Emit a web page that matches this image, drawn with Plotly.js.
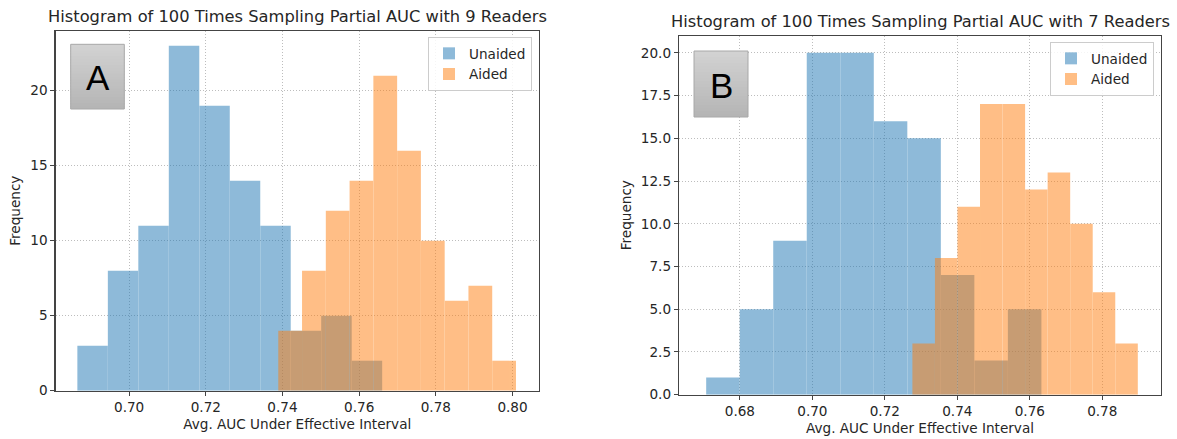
<!DOCTYPE html>
<html><head><meta charset="utf-8">
<script src="https://cdn.plot.ly/plotly-3.0.1.min.js"></script>
<style>html,body{margin:0;padding:0;background:#fff}</style>
</head><body><div id="chart" style="width:1177px;height:439px"></div>
<script>
// ---------- Data ----------
// Panel A: 9 readers
const unaidedA_counts = [3, 8, 11, 23, 19, 14, 11, 4, 5, 2];
const unaidedA_edges  = [0.6865, 0.7660];   // first / last bin edge
const aidedA_counts   = [4, 8, 12, 14, 21, 16, 10, 6, 7, 2];
const aidedA_edges    = [0.7389, 0.8009];
// Panel B: 7 readers
const unaidedB_counts = [1, 5, 9, 20, 20, 16, 15, 7, 2, 5];
const unaidedB_edges  = [0.6707, 0.7632];
const aidedB_counts   = [3, 8, 11, 17, 17, 12, 13, 10, 6, 3];
const aidedB_edges    = [0.7276, 0.7898];

const seriesNames = ['Unaided', 'Aided'];
const panelTitles = ['Histogram of 100 Times Sampling Partial AUC with 9 Readers',
                     'Histogram of 100 Times Sampling Partial AUC with 7 Readers'];
const panelLetters = ['A', 'B'];
const xLabel = 'Avg. AUC Under Effective Interval';
const yLabel = 'Frequency';

// ---------- Helpers ----------
const W = 1177, H = 439;
const px = x => x / W;
const py = y => 1 - y / H;
function bins(counts, edges) {
  const n = counts.length, w = (edges[1] - edges[0]) / n;
  return { x: counts.map((_, i) => edges[0] + (i + 0.5) * w), y: counts, w: w };
}
const C0 = '#1f77b4', C1 = '#ff7f0e';
function barTrace(counts, edges, name, color, xa, ya, leg) {
  const b = bins(counts, edges);
  return { type: 'bar', x: b.x, y: b.y, width: b.w, name: name,
    xaxis: xa, yaxis: ya, legend: leg, opacity: 0.5,
    marker: { color: color, line: { width: 0 } }, hoverinfo: 'x+y+name' };
}

const data = [
  barTrace(unaidedA_counts, unaidedA_edges, seriesNames[0], C0, 'x', 'y', 'legend'),
  barTrace(aidedA_counts, aidedA_edges, seriesNames[1], C1, 'x', 'y', 'legend'),
  barTrace(unaidedB_counts, unaidedB_edges, seriesNames[0], C0, 'x2', 'y2', 'legend2'),
  barTrace(aidedB_counts, aidedB_edges, seriesNames[1], C1, 'x2', 'y2', 'legend2')
];

// plot areas in pixels
const A = { l: 55.5, r: 539, t: 30.7, b: 390.7 };
const B = { l: 679, r: 1161, t: 35.7, b: 394.7 };

const font = 'DejaVu Sans, sans-serif';
const txt = '#262626';
const fs = 13.6;
function xAxis(dom, range, anchor) {
  return { domain: dom, range: range, anchor: anchor, tick0: 0.70, dtick: 0.02, tickformat: '.2f',
    ticks: 'outside', ticklen: 4, tickwidth: 1, tickcolor: '#444',
    showline: true, mirror: true, linecolor: '#444', linewidth: 1.2,
    showgrid: true, gridcolor: '#bdbdbd', griddash: '1px,2px', gridwidth: 1, zeroline: false,
    tickfont: { family: font, size: fs, color: txt },
    title: { text: xLabel, font: { family: font, size: fs, color: txt }, standoff: 5 } };
}
function yAxis(dom, range, anchor, dtick, fmt) {
  return { domain: dom, range: range, anchor: anchor, tick0: 0, dtick: dtick, tickformat: fmt,
    ticks: 'outside', ticklen: 4, tickwidth: 1, tickcolor: '#444',
    showline: true, mirror: true, linecolor: '#444', linewidth: 1.2,
    showgrid: true, gridcolor: '#bdbdbd', griddash: '1px,2px', gridwidth: 1, zeroline: false,
    tickfont: { family: font, size: fs, color: txt },
    title: { text: yLabel, font: { family: font, size: fs, color: txt }, standoff: 6 } };
}

// gradient label boxes
const shapes = [];
const annotations = [];
function letterBox(x0, y0, x1, y1, letter) {
  const n = 22, top = [210, 210, 210], bot = [181, 181, 181];
  for (let i = 0; i < n; i++) {
    const t = i / (n - 1);
    const c = top.map((v, k) => Math.round(v + (bot[k] - v) * t));
    const ya = y0 + (y1 - y0) * i / n;
    const yb = Math.min(y1, y0 + (y1 - y0) * (i + 1) / n + 1.5);
    shapes.push({ type: 'rect', xref: 'paper', yref: 'paper', x0: px(x0), x1: px(x1), y0: py(ya), y1: py(yb),
      fillcolor: `rgb(${c[0]},${c[1]},${c[2]})`, line: { width: 0 }, layer: 'above' });
  }
  shapes.push({ type: 'rect', xref: 'paper', yref: 'paper', x0: px(x0), x1: px(x1), y0: py(y0), y1: py(y1),
    fillcolor: 'rgba(0,0,0,0)', line: { width: 1, color: '#a8a8a8' }, layer: 'above' });
  annotations.push({ xref: 'paper', yref: 'paper', x: px((x0 + x1) / 2), y: py((y0 + y1) / 2 + 1),
    xanchor: 'center', yanchor: 'middle', showarrow: false, text: letter,
    font: { family: 'Liberation Sans, Arial, sans-serif', size: 35, color: '#000' } });
}
letterBox(70.7, 44.3, 124.3, 109, panelLetters[0]);
letterBox(694, 51, 748, 117, panelLetters[1]);

// subplot titles
const tfs = 16.3;
annotations.push({ xref: 'paper', yref: 'paper', x: px((A.l + A.r) / 2), y: py(A.t - 14.5),
  xanchor: 'center', yanchor: 'middle', showarrow: false, text: panelTitles[0],
  font: { family: font, size: tfs, color: txt } });
annotations.push({ xref: 'paper', yref: 'paper', x: px((B.l + B.r) / 2), y: py(B.t - 14.5),
  xanchor: 'center', yanchor: 'middle', showarrow: false, text: panelTitles[1],
  font: { family: font, size: tfs, color: txt } });

const legendStyle = (x, y) => ({ x: px(x), y: py(y), xanchor: 'right', yanchor: 'top',
  bgcolor: 'rgba(255,255,255,0.85)', bordercolor: '#cccccc', borderwidth: 1,
  font: { family: font, size: fs, color: txt }, tracegroupgap: 0 });

const layout = {
  width: W, height: H, margin: { l: 0, r: 0, t: 0, b: 0 },
  paper_bgcolor: '#fff', plot_bgcolor: '#fff',
  barmode: 'overlay', showlegend: true,
  xaxis: xAxis([px(A.l), px(A.r)], [0.6808, 0.8069], 'y'),
  yaxis: yAxis([py(A.b), py(A.t)], [0, 24.0], 'x', 5, 'd'),
  xaxis2: xAxis([px(B.l), px(B.r)], [0.6632, 0.7962], 'y2'),
  yaxis2: yAxis([py(B.b), py(B.t)], [0, 21], 'x2', 2.5, '.1f'),
  legend: legendStyle(532, 37),
  legend2: legendStyle(1154, 42),
  shapes: shapes, annotations: annotations
};

Plotly.newPlot('chart', data, layout, { staticPlot: true, displayModeBar: false });
</script>
</body></html>
